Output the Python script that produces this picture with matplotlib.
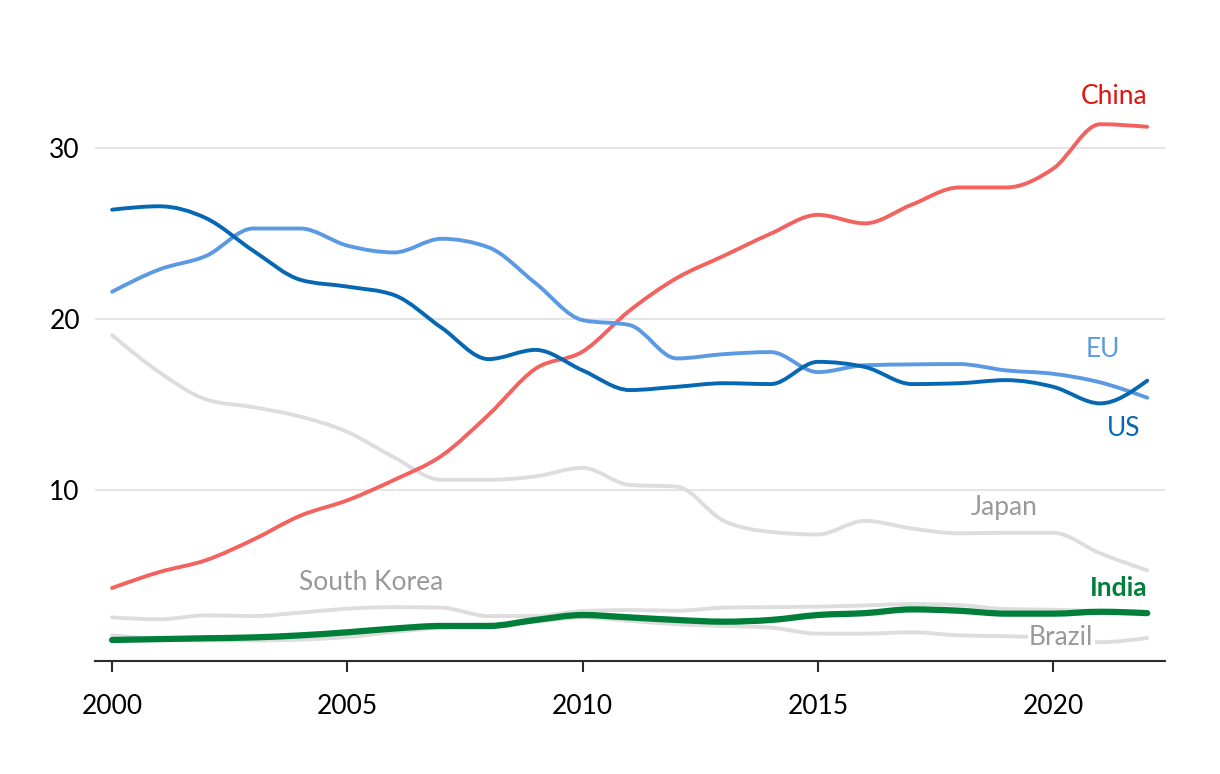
import matplotlib.pyplot as plt
from matplotlib.path import Path
from matplotlib.patches import PathPatch
import numpy as np

years = list(range(2000, 2023))

china = [4.27, 5.2, 5.9, 7.1, 8.5, 9.4, 10.6, 12.0, 14.4, 17.1, 18.1, 20.5, 22.4, 23.7, 25.0,
         26.1, 25.6, 26.7, 27.7, 27.7, 28.8, 31.4, 31.25]
eu = [21.6, 22.9, 23.7, 25.3, 25.3, 24.3, 23.9, 24.7, 24.2, 22.1, 19.94, 19.65, 17.7, 17.95, 18.07,
      16.9, 17.3, 17.35, 17.37, 17.0, 16.8, 16.3, 15.4]
us = [26.4, 26.6, 25.9, 24.0, 22.3, 21.9, 21.4, 19.5, 17.66, 18.2, 17.0, 15.85, 16.04, 16.25, 16.2,
      17.5, 17.2, 16.2, 16.25, 16.43, 16.04, 15.07, 16.4]
japan = [19.06, 16.9, 15.3, 14.85, 14.3, 13.4, 11.9, 10.6, 10.6, 10.8, 11.3, 10.3, 10.2, 8.2, 7.55,
         7.4, 8.2, 7.75, 7.47, 7.5, 7.5, 6.3, 5.3]
south_korea = [2.55, 2.44, 2.67, 2.63, 2.83, 3.06, 3.15, 3.12, 2.63, 2.63, 2.92, 2.98, 2.94, 3.12, 3.15,
               3.18, 3.25, 3.33, 3.27, 3.04, 3.0, 2.9, 2.75]
brazil = [1.5, 1.3, 1.2, 1.2, 1.25, 1.4, 1.7, 1.95, 2.05, 2.3, 2.55, 2.35, 2.15, 2.05, 1.95,
          1.6, 1.6, 1.68, 1.5, 1.45, 1.35, 1.1, 1.35]
india = [1.23, 1.28, 1.33, 1.38, 1.5, 1.68, 1.9, 2.05, 2.05, 2.4, 2.69, 2.55, 2.4, 2.3, 2.4,
         2.69, 2.8, 3.02, 2.94, 2.77, 2.77, 2.88, 2.8]


def smooth_path(x, y):
    # monotone-x cubic bezier through the yearly points (like d3.curveMonotoneX)
    x = np.asarray(x, float)
    y = np.asarray(y, float)
    h = np.diff(x)
    s = np.diff(y) / h
    t = np.zeros(len(x))
    for i in range(1, len(x) - 1):
        if s[i - 1] * s[i] <= 0:
            t[i] = 0
        else:
            p = (s[i - 1] * h[i] + s[i] * h[i - 1]) / (h[i - 1] + h[i])
            t[i] = (np.sign(s[i - 1]) + np.sign(s[i])) * min(abs(s[i - 1]), abs(s[i]), 0.5 * abs(p))
    t[0] = (3 * s[0] - t[1]) / 2
    t[-1] = (3 * s[-1] - t[-2]) / 2
    verts = [(x[0], y[0])]
    codes = [Path.MOVETO]
    for i in range(len(x) - 1):
        d = h[i] / 3
        verts += [(x[i] + d, y[i] + d * t[i]), (x[i + 1] - d, y[i + 1] - d * t[i + 1]), (x[i + 1], y[i + 1])]
        codes += [Path.CURVE4] * 3
    return Path(verts, codes)


def draw(ax, y, color, lw):
    ax.add_patch(PathPatch(smooth_path(years, y), facecolor='none', edgecolor=color, lw=lw,
                           capstyle='round', joinstyle='round'))


plt.rcParams['font.family'] = ['Lato', 'DejaVu Sans']

fig = plt.figure(figsize=(12.2, 7.74), dpi=100)
ax = fig.add_axes([0.078, 0.146, 0.877, 0.773])

grey = '#dddddd'
draw(ax, japan, grey, 2.8)
draw(ax, south_korea, grey, 2.8)
draw(ax, brazil, grey, 2.8)
draw(ax, china, '#f2625e', 2.8)
draw(ax, eu, '#5b9ae3', 2.8)
draw(ax, us, '#0667b2', 2.8)
draw(ax, india, '#007f3b', 4.5)

ax.set_xlim(1999.64, 2022.38)
ax.set_ylim(0, 35)
ax.set_yticks([10, 20, 30])
ax.set_xticks([2000, 2005, 2010, 2015, 2020])
ax.grid(axis='y', color='#e3e3e3', lw=1.3)
ax.set_axisbelow(True)
for s in ['top', 'right', 'left']:
    ax.spines[s].set_visible(False)
ax.spines['bottom'].set_color('#2b2b2b')
ax.spines['bottom'].set_linewidth(1.5)
ax.tick_params(axis='y', length=0, pad=11, labelsize=19)
ax.tick_params(axis='x', length=8, width=1.5, color='#2b2b2b', pad=16, labelsize=19)

lab = dict(fontsize=19)
ax.text(2022, 33.0, 'China', color='#e3120b', ha='right', va='center', **lab)
ax.text(2021.05, 18.25, 'EU', color='#5b9ae3', ha='center', va='center', **lab)
ax.text(2021.5, 13.6, 'US', color='#0667b2', ha='center', va='center', **lab)
ax.text(2018.95, 9.0, 'Japan', color='#999999', ha='center', va='center', **lab)
ax.text(2005.5, 4.6, 'South Korea', color='#999999', ha='center', va='center', **lab)
ax.text(2022, 4.27, 'India', color='#007f3b', ha='right', va='center', fontweight='bold', **lab)
ax.text(2020.17, 1.35, 'Brazil', color='#999999', ha='center', va='center',
        bbox=dict(facecolor='white', edgecolor='none', pad=1), **lab)

fig.savefig('out.png', dpi=100, facecolor='white')
